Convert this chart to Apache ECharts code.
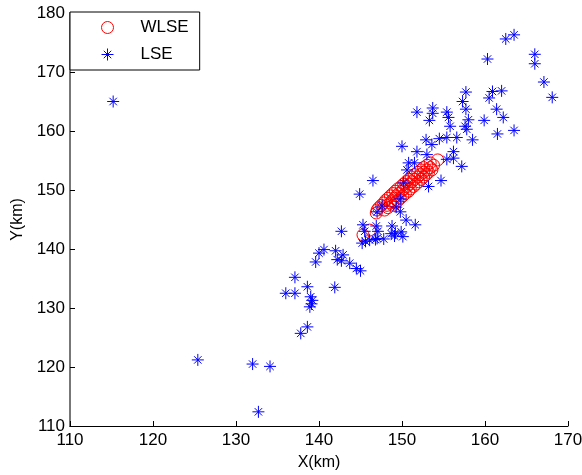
<!DOCTYPE html>
<html>
<head>
<meta charset="utf-8">
<script src="https://cdn.jsdelivr.net/npm/echarts@6/dist/echarts.min.js"></script>
<style>
  html, body { margin: 0; padding: 0; background: #fff; }
  #chart { width: 582px; height: 475px; }
</style>
</head>
<body>
<div id="chart"></div>
<script>
// axis ticks
const xTicks = [110, 120, 130, 140, 150, 160, 170];
const yTicks = [110, 120, 130, 140, 150, 160, 170, 180];

// WLSE estimates (red circles), [x, y] in km
const wlse = [
  [145.3, 142.4], [146.1, 143.2], [146.9, 146.1], [154.3, 155.1],
  [147.0, 146.6], [147.9, 146.6],
  [147.2, 147.0], [148.3, 147.0],
  [147.5, 147.4], [148.2, 147.4], [148.9, 147.4],
  [147.8, 147.8], [148.6, 147.8], [149.2, 147.8],
  [148.0, 148.2], [148.8, 148.2], [149.5, 148.2],
  [148.3, 148.6], [149.1, 148.6], [149.8, 148.6],
  [148.6, 149.0], [149.3, 149.0], [150.1, 149.0],
  [148.9, 149.4], [149.6, 149.4], [150.4, 149.4],
  [149.2, 149.8], [150.0, 149.8], [150.8, 149.8],
  [149.5, 150.2], [150.2, 150.2], [151.0, 150.2],
  [149.9, 150.6], [150.6, 150.6], [151.4, 150.6],
  [150.2, 151.0], [150.9, 151.0], [151.7, 151.0],
  [150.5, 151.4], [151.2, 151.4], [152.0, 151.4],
  [150.8, 151.8], [151.5, 151.8], [152.3, 151.8],
  [151.1, 152.2], [151.9, 152.2], [152.6, 152.2],
  [151.5, 152.6], [152.2, 152.6], [152.9, 152.6],
  [151.9, 153.0], [152.6, 153.0], [153.2, 153.0],
  [152.3, 153.4], [153.0, 153.4], [153.6, 153.4],
  [152.6, 153.8], [153.4, 153.8],
  [153.0, 154.2], [153.8, 154.2],
  [153.4, 154.6]
];

// LSE estimates (blue asterisks), [x, y] in km
const lse = [
  [115.2, 165.0], [125.4, 121.2], [132.0, 120.5], [134.1, 120.1], [132.7, 112.4],
  [137.1, 135.2], [136.0, 132.5], [137.1, 132.5], [138.6, 133.6], [139.0, 131.9],
  [139.2, 131.3], [139.1, 130.7], [138.9, 130.2], [138.6, 126.8], [137.8, 125.7],
  [139.6, 137.8], [140.0, 139.3], [140.6, 139.9], [141.9, 133.5], [142.0, 139.7],
  [142.2, 138.2], [142.9, 139.0], [142.7, 138.0], [143.7, 137.6], [144.5, 136.7],
  [145.0, 136.3], [142.7, 143.0], [145.3, 144.1], [145.5, 143.0], [146.9, 143.9],
  [147.1, 143.0], [145.2, 141.0], [146.1, 141.5], [147.0, 141.8], [147.8, 141.7],
  [149.1, 142.2], [150.1, 142.1], [149.2, 142.7], [147.0, 146.3], [148.8, 143.9],
  [150.5, 144.9], [151.6, 144.1], [149.8, 146.3], [149.3, 147.1], [149.8, 148.5],
  [147.6, 147.3], [144.9, 149.3], [146.5, 151.6], [150.2, 151.2], [150.6, 153.4],
  [150.8, 154.6], [151.5, 154.6], [150.0, 157.4], [151.8, 156.5], [153.0, 156.0],
  [152.9, 158.5], [153.2, 150.6], [154.7, 151.6], [157.2, 154.0], [156.2, 156.5],
  [156.2, 155.4], [155.4, 155.2], [153.6, 157.7], [154.5, 158.7], [155.4, 158.9],
  [156.6, 158.9], [158.5, 158.5], [155.8, 160.8], [157.6, 160.8], [157.8, 160.3],
  [161.5, 159.5], [163.5, 160.1], [153.3, 161.8], [151.8, 163.2], [153.7, 163.9],
  [153.7, 163.0], [155.4, 163.2], [155.6, 162.3], [158.0, 161.9], [159.9, 161.8],
  [161.4, 163.7], [162.2, 162.3], [157.7, 163.7], [157.7, 166.6], [157.3, 165.0],
  [160.9, 166.7], [162.0, 166.8], [160.5, 165.6], [160.3, 172.2], [162.5, 175.6],
  [163.5, 176.3], [166.0, 173.0], [166.0, 171.4], [167.1, 168.3], [168.1, 165.7],
  [145.6, 141.3], [146.8, 141.6], [148.7, 142.6], [149.9, 142.9]
];

const starPath = 'path://M0,-1L0,1M-1,0L1,0M-0.62,-0.62L0.62,0.62M-0.62,0.62L0.62,-0.62';
const font = 'Liberation Sans, Arial, Helvetica, sans-serif';

const chart = echarts.init(document.getElementById('chart'), null, { renderer: 'canvas' });

chart.setOption({
  animation: false,
  backgroundColor: '#fff',
  textStyle: { fontFamily: font },
  grid: {
    left: 70, right: 14, top: 13, bottom: 49,
    outerBoundsMode: 'none'
  },
  legend: {
    left: 70, top: 12,
    orient: 'vertical',
    padding: [7, 11, 7, 31],
    itemWidth: 56, itemHeight: 12, itemGap: 10,
    borderColor: '#000', borderWidth: 1,
    backgroundColor: '#fff',
    selectedMode: false,
    textStyle: { fontSize: 17, color: '#000', fontFamily: font },
    itemStyle: { borderWidth: 1 },
    data: ['WLSE', 'LSE']
  },
  xAxis: {
    type: 'value',
    min: xTicks[0], max: xTicks[xTicks.length - 1], interval: 10,
    name: 'X(km)', nameLocation: 'middle', nameGap: 29,
    nameTextStyle: { fontSize: 16, color: '#000', fontFamily: font },
    axisLine: { show: true, onZero: false, lineStyle: { color: '#000', width: 1 } },
    axisTick: { show: true, inside: true, length: 5, lineStyle: { color: '#000' } },
    axisLabel: { fontSize: 17, color: '#000', margin: 6, fontFamily: font },
    splitLine: { show: false }
  },
  yAxis: {
    type: 'value',
    min: yTicks[0], max: yTicks[yTicks.length - 1], interval: 10,
    name: 'Y(km)', nameLocation: 'middle', nameGap: 43, nameRotate: 90,
    nameTextStyle: { fontSize: 16, color: '#000', fontFamily: font },
    axisLine: { show: true, onZero: false, lineStyle: { color: '#777', width: 2 } },
    axisTick: { show: true, inside: true, length: 5, lineStyle: { color: '#000' } },
    axisLabel: { fontSize: 17, color: '#000', margin: 5, fontFamily: font },
    splitLine: { show: false }
  },
  series: [
    {
      name: 'WLSE',
      type: 'scatter',
      data: wlse,
      symbol: 'circle',
      symbolSize: 12,
      itemStyle: { color: 'rgba(255,0,0,0)', borderColor: '#ff0000', borderWidth: 1, opacity: 1 },
      emphasis: { disabled: true }
    },
    {
      name: 'LSE',
      type: 'scatter',
      data: lse,
      symbol: starPath,
      symbolSize: 12,
      itemStyle: { color: '#0000ff', borderColor: '#0000ff', borderWidth: 1, opacity: 1 },
      emphasis: { disabled: true }
    }
  ]
});
</script>
</body>
</html>
